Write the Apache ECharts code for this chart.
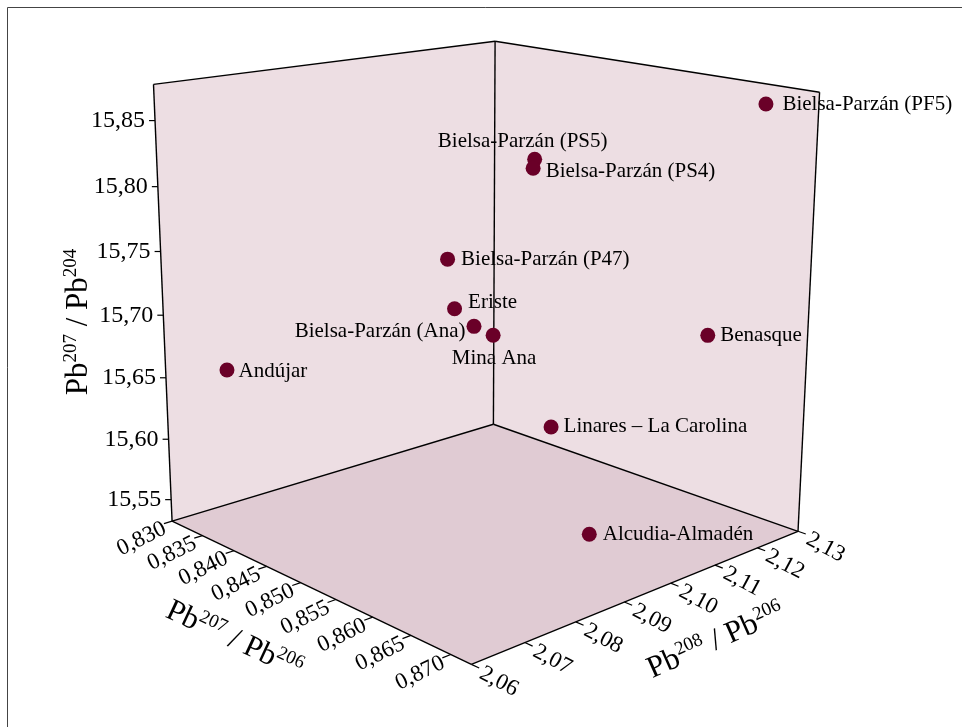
<!DOCTYPE html>
<html>
<head>
<meta charset="utf-8">
<script src="https://cdn.jsdelivr.net/npm/echarts@6/dist/echarts.min.js"></script>
<style>
html,body{margin:0;padding:0;background:#fff;}
#c{width:962px;height:727px;}
</style>
</head>
<body>
<div id="c"></div>
<script>
// ---------------- DATA ----------------
const names = ['Bielsa-Parzán (PF5)', 'Bielsa-Parzán (PS5)', 'Bielsa-Parzán (PS4)', 'Bielsa-Parzán (P47)',
  'Eriste', 'Bielsa-Parzán (Ana)', 'Mina Ana', 'Andújar', 'Benasque', 'Linares – La Carolina', 'Alcudia-Almadén'];
const pb207_206 = [0.8674, 0.8404, 0.8405, 0.8343, 0.8377, 0.8406, 0.8434, 0.8309, 0.8640, 0.8555, 0.8640];
const pb208_206 = [2.1280, 2.1230, 2.1225, 2.1125, 2.1090, 2.1090, 2.1090, 2.0705, 2.1230, 2.1027, 2.0971];
const pb207_204 = [15.864, 15.792, 15.785, 15.7066, 15.6726, 15.6626, 15.660, 15.647, 15.683, 15.614, 15.5535];

const xTicks = [0.830, 0.835, 0.840, 0.845, 0.850, 0.855, 0.860, 0.865, 0.870];   // Pb207/Pb206
const yTicks = [2.06, 2.07, 2.08, 2.09, 2.10, 2.11, 2.12, 2.13];                 // Pb208/Pb206
const zTicks = [15.55, 15.60, 15.65, 15.70, 15.75, 15.80, 15.85];                // Pb207/Pb204
const xTickLabels = ['0,830', '0,835', '0,840', '0,845', '0,850', '0,855', '0,860', '0,865', '0,870'];
const yTickLabels = ['2,06', '2,07', '2,08', '2,09', '2,10', '2,11', '2,12', '2,13'];
const zTickLabels = ['15,55', '15,60', '15,65', '15,70', '15,75', '15,80', '15,85'];

// axis extents
const xRange = [0.830, 0.8725];
const yRange = [2.06, 2.13];
const zRange = [15.532, 15.877];

// ---------------- VIEW (camera calibration of the unit box) ----------------
const VIEW = [
  [[0, 0, 0], [172, 520]], [[1, 0, 0], [472, 665]], [[1, 1, 0], [798, 531]], [[0, 1, 0], [493, 425]],
  [[0, 0, 1], [153, 85]], [[0, 1, 1], [496, 41]], [[1, 1, 1], [819, 92]]
];
function fitCamera(pairs) {
  const A = [], b = [];
  pairs.forEach(([[X, Y, Z], [sx, sy]]) => {
    A.push([X, Y, Z, 1, 0, 0, 0, 0, -sx * X, -sx * Y, -sx * Z]); b.push(sx);
    A.push([0, 0, 0, 0, X, Y, Z, 1, -sy * X, -sy * Y, -sy * Z]); b.push(sy);
  });
  const n = 11, M = [];
  for (let i = 0; i < n; i++) {
    const row = new Array(n + 1).fill(0);
    for (let j = 0; j < n; j++) { let s = 0; for (let k = 0; k < A.length; k++) s += A[k][i] * A[k][j]; row[j] = s; }
    let s = 0; for (let k = 0; k < A.length; k++) s += A[k][i] * b[k]; row[n] = s;
    M.push(row);
  }
  for (let c = 0; c < n; c++) {
    let p = c;
    for (let r = c + 1; r < n; r++) if (Math.abs(M[r][c]) > Math.abs(M[p][c])) p = r;
    const tmp = M[c]; M[c] = M[p]; M[p] = tmp;
    for (let r = 0; r < n; r++) {
      if (r === c) continue;
      const f = M[r][c] / M[c][c];
      for (let k = c; k <= n; k++) M[r][k] -= f * M[c][k];
    }
  }
  return M.map((row, i) => row[n] / row[i]);
}
const CAM = fitCamera(VIEW);
function camProject(u, v, w) {
  const d = CAM[8] * u + CAM[9] * v + CAM[10] * w + 1;
  return [(CAM[0] * u + CAM[1] * v + CAM[2] * w + CAM[3]) / d,
          (CAM[4] * u + CAM[5] * v + CAM[6] * w + CAM[7]) / d];
}
function proj(x, y, z) {
  return camProject((x - xRange[0]) / (xRange[1] - xRange[0]),
                    (y - yRange[0]) / (yRange[1] - yRange[0]),
                    (z - zRange[0]) / (zRange[1] - zRange[0]));
}
function corner(ix, iy, iz) { return proj(xRange[ix], yRange[iy], zRange[iz]); }

// ---------------- STYLE ----------------
const SERIF = '"Liberation Serif", "DejaVu Serif", "Times New Roman", serif';
const WALL = '#EDDEE3', FLOOR = '#E0CBD3', DOT = '#6A0028';
const FACES = [
  {c: [[0, 0, 0], [0, 1, 0], [0, 1, 1], [0, 0, 1]], fill: WALL},
  {c: [[0, 1, 0], [1, 1, 0], [1, 1, 1], [0, 1, 1]], fill: WALL},
  {c: [[0, 0, 0], [1, 0, 0], [1, 1, 0], [0, 1, 0]], fill: FLOOR}
];
const EDGES = [
  [[0, 0, 0], [1, 0, 0]], [[1, 0, 0], [1, 1, 0]], [[0, 0, 0], [0, 1, 0]], [[0, 1, 0], [1, 1, 0]],
  [[0, 0, 0], [0, 0, 1]], [[0, 1, 0], [0, 1, 1]], [[1, 1, 0], [1, 1, 1]],
  [[0, 0, 1], [0, 1, 1]], [[0, 1, 1], [1, 1, 1]]
];
// label placement per point: [position, distance, offsetX, offsetY]
const LABEL_PLACE = [
  ['right', 9, 0, 0], ['top', 1, -12, 1], ['right', 5, 0, 3], ['right', 6, 0, 0],
  ['right', 6, 0, -6], ['left', 1, 0, 5], ['bottom', 3, 1, 2], ['right', 4, 0, 1],
  ['right', 5, 0, 0], ['right', 5, 0, 0], ['right', 6, 0, 0]
];

const TICK = 0.022;
const textStyle = (txt, size, align) => ({text: txt, fontSize: size, fontFamily: SERIF, fill: '#000', align: align, verticalAlign: 'middle'});
const deg = Math.PI / 180;
const titleRich = {
  a: {fontSize: 31, fontFamily: SERIF, lineHeight: 34, fill: '#000'},
  s: {fontSize: 19, fontFamily: SERIF, verticalAlign: 'top', fill: '#000'}
};

const chart = echarts.init(document.getElementById('c'));
const option = {
  animation: false,
  backgroundColor: '#fff',
  grid: {left: 0, right: 0, top: 0, bottom: 0},
  xAxis: {type: 'value', min: 0, max: 962, show: false},
  yAxis: {type: 'value', min: 0, max: 727, inverse: true, show: false},
  graphic: [
    {type: 'rect', shape: {x: 7.5, y: 7.5, width: 1200, height: 1200}, style: {fill: 'none', stroke: '#444', lineWidth: 1}, z: 0},
    {type: 'text', x: 79, y: 322, rotation: Math.PI / 2, z: 10,
      style: {text: '{a|Pb}{s|207}{a| / Pb}{s|204}', align: 'center', verticalAlign: 'middle', rich: titleRich}},
    {type: 'text', x: 234, y: 640, rotation: -25 * deg, z: 10,
      style: {text: '{a|Pb}{s|207}{a| / Pb}{s|206}', align: 'center', verticalAlign: 'middle', rich: titleRich}},
    {type: 'text', x: 716, y: 641, rotation: 24 * deg, z: 10,
      style: {text: '{a|Pb}{s|208}{a| / Pb}{s|206}', align: 'center', verticalAlign: 'middle', rich: titleRich}}
  ],
  series: [
    { // walls and floor
      type: 'custom', silent: true, z: 1, data: FACES.map(() => [0, 0]),
      renderItem: (params, api) => {
        const f = FACES[params.dataIndex];
        return {type: 'polygon', shape: {points: f.c.map(c => api.coord(corner(c[0], c[1], c[2])))}, style: {fill: f.fill, stroke: null}};
      }
    },
    { // box edges
      type: 'custom', silent: true, z: 2, data: EDGES.map(() => [0, 0]),
      renderItem: (params, api) => {
        const e = EDGES[params.dataIndex];
        const a = api.coord(corner(...e[0])), b = api.coord(corner(...e[1]));
        return {type: 'line', shape: {x1: a[0], y1: a[1], x2: b[0], y2: b[1]}, style: {stroke: '#000', lineWidth: 1.4}};
      }
    },
    { // Pb207/Pb206 axis (left floor edge)
      type: 'custom', silent: true, z: 3, data: xTicks.map(() => [0, 0]),
      renderItem: (params, api) => {
        const v = xTicks[params.dataIndex];
        const e = api.coord(proj(v, yRange[0], zRange[0]));
        const t = api.coord(proj(v, yRange[0] - TICK * (yRange[1] - yRange[0]), zRange[0]));
        return {type: 'group', children: [
          {type: 'line', shape: {x1: e[0], y1: e[1], x2: t[0], y2: t[1]}, style: {stroke: '#000', lineWidth: 1.2}},
          {type: 'text', x: t[0] + 1, y: t[1] + 4, rotation: 26 * deg, style: textStyle(xTickLabels[params.dataIndex], 23, 'right')}
        ]};
      }
    },
    { // Pb208/Pb206 axis (right floor edge)
      type: 'custom', silent: true, z: 3, data: yTicks.map(() => [0, 0]),
      renderItem: (params, api) => {
        const v = yTicks[params.dataIndex];
        const e = api.coord(proj(xRange[1], v, zRange[0]));
        const t = api.coord(proj(xRange[1] + TICK * (xRange[1] - xRange[0]), v, zRange[0]));
        return {type: 'group', children: [
          {type: 'line', shape: {x1: e[0], y1: e[1], x2: t[0], y2: t[1]}, style: {stroke: '#000', lineWidth: 1.2}},
          {type: 'text', x: t[0] + 2, y: t[1] + 4, rotation: -28 * deg, style: textStyle(yTickLabels[params.dataIndex], 23, 'left')}
        ]};
      }
    },
    { // Pb207/Pb204 axis (vertical left edge)
      type: 'custom', silent: true, z: 3, data: zTicks.map(() => [0, 0]),
      renderItem: (params, api) => {
        const v = zTicks[params.dataIndex];
        const e = api.coord(proj(xRange[0], yRange[0], v));
        return {type: 'group', children: [
          {type: 'line', shape: {x1: e[0], y1: e[1], x2: e[0] - 6, y2: e[1]}, style: {stroke: '#000', lineWidth: 1.2}},
          {type: 'text', x: e[0] - 10, y: e[1], style: textStyle(zTickLabels[params.dataIndex], 24, 'right')}
        ]};
      }
    },
    { // sample points
      type: 'scatter', z: 5, symbol: 'circle', symbolSize: 15,
      itemStyle: {color: DOT, opacity: 1},
      emphasis: {disabled: true},
      label: {show: true, formatter: '{b}', fontFamily: SERIF, fontSize: 21, color: '#000', opacity: 1},
      data: names.map((n, i) => {
        const lp = LABEL_PLACE[i];
        return {name: n, value: proj(pb207_206[i], pb208_206[i], pb207_204[i]),
          label: {position: lp[0], distance: lp[1], offset: [lp[2], lp[3]]}};
      })
    }
  ]
};
chart.setOption(option);
</script>
</body>
</html>
